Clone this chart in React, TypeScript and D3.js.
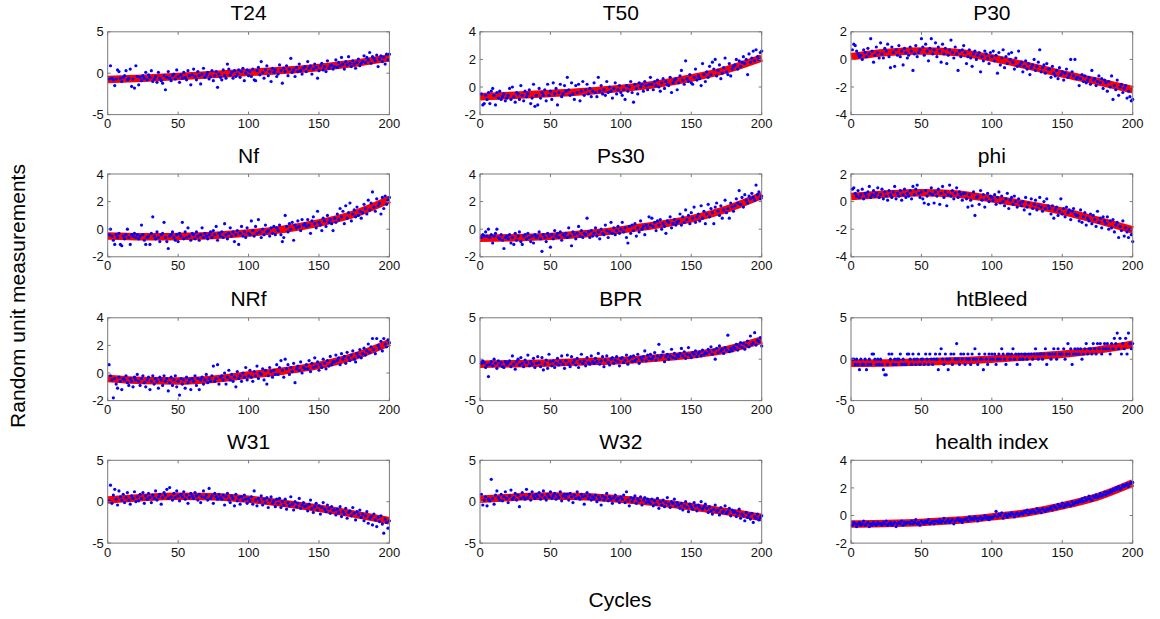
import React from "react";
import * as d3 from "d3";

// ---------- data ----------
const X_TICKS = [0, 50, 100, 150, 200];
const CURVE_X = [0, 25, 50, 75, 100, 125, 150, 175, 200];

const NAMES = ["T24", "T50", "P30", "Nf", "Ps30", "phi", "NRf", "BPR", "htBleed", "W31", "W32", "health index"];
const Y_DOMAINS: [number, number][] = [[-5, 5], [-2, 4], [-4, 2], [-2, 4], [-2, 4], [-4, 2], [-2, 4], [-5, 5], [-5, 5], [-5, 5], [-5, 5], [-2, 4]];
const Y_TICKS: number[][] = [[-5, 0, 5], [-2, 0, 2, 4], [-4, -2, 0, 2], [-2, 0, 2, 4], [-2, 0, 2, 4], [-4, -2, 0, 2], [-2, 0, 2, 4], [-5, 0, 5], [-5, 0, 5], [-5, 0, 5], [-5, 0, 5], [-2, 0, 2, 4]];

// smooth trend (red) at CURVE_X
const CURVE_T24 = [-0.75, -0.6, -0.4, -0.15, 0.1, 0.35, 0.7, 1.2, 1.85];
const CURVE_T50 = [-0.7, -0.6, -0.47, -0.32, -0.1, 0.2, 0.65, 1.25, 2.1];
const CURVE_P30 = [0.2, 0.5, 0.6, 0.5, 0.1, -0.45, -1.05, -1.6, -2.2];
const CURVE_NF = [-0.5, -0.55, -0.52, -0.45, -0.28, 0.0, 0.45, 1.1, 2.15];
const CURVE_PS30 = [-0.65, -0.62, -0.52, -0.33, -0.05, 0.3, 0.75, 1.45, 2.45];
const CURVE_PHI = [0.37, 0.55, 0.65, 0.55, 0.2, -0.2, -0.7, -1.35, -2.05];
const CURVE_NRF = [-0.4, -0.55, -0.58, -0.45, -0.15, 0.15, 0.55, 1.2, 2.2];
const CURVE_BPR = [-0.6, -0.55, -0.45, -0.3, -0.15, 0.15, 0.5, 1.15, 2.3];
const CURVE_HTBLEED = [-0.5, -0.45, -0.35, -0.2, 0.0, 0.3, 0.6, 1.1, 1.8];
const CURVE_W31 = [0.2, 0.5, 0.65, 0.6, 0.3, -0.2, -0.8, -1.5, -2.3];
const CURVE_W32 = [0.3, 0.55, 0.7, 0.6, 0.3, -0.1, -0.6, -1.2, -1.9];
const CURVE_HEALTH = [-0.62, -0.58, -0.5, -0.35, -0.1, 0.2, 0.7, 1.35, 2.35];

// measurements (blue) for cycles 1..200
const DOTS_T24 = [
  -.7,.9,-.6,-.8,-1.5,-.7,.4,.2,-.6,-1,-.5,-.3,.3,-.8,-.6,.5,-1.6,-.7,-1.8,.9,
  -.4,-1.4,-.5,-.9,-.3,-.6,.1,-.8,-.2,-.5,.3,-1,-.7,-.4,-1.1,.1,-.6,-.9,-1.2,-.3,
  -2,-.5,.2,-.6,-.9,-.3,-.1,-.7,.4,-.4,-1.1,-.2,-.6,.1,-.5,-.8,.3,-.3,-1.4,-.2,
  .5,-.4,-.8,.2,-.3,-1.3,-.1,.6,-.5,-.2,.1,-.7,-.4,.3,-.9,-.3,.2,-1.7,-.1,-.5,
  -.8,.4,-.3,-.6,1.1,.5,-.2,.1,-.6,.3,-.4,-.1,.4,-.5,.2,.6,-.9,0,.4,-.3,
  .2,-.4,.5,-.8,-.9,.3,.7,-.2,1.4,.1,-.6,.4,.9,-.3,.2,-1,.6,.1,.4,-.4,
  -.1,1,.3,-1.2,.6,.2,.9,-.3,.5,1.8,.1,.4,-.4,.7,.2,1.1,.3,-.1,.6,.8,
  .2,1.4,.6,.9,-.1,.5,1.1,.7,-.6,.3,.9,1.2,.4,.8,.2,1.5,.6,.9,1,.5,
  .8,1.6,.7,1.3,.9,1.9,1.1,.5,1.4,1,2,1.2,.8,1.5,1.1,.6,1.3,1.7,.9,1.2,
  1.4,2.1,1.3,1.9,1.6,2.5,1.2,2,1.8,1.5,2.2,.8,1.7,2.1,1.4,1.9,1.1,2.3,1.6,2.3,
];
const DOTS_T50 = [
  -.5,-1.3,-1.2,-.6,-.9,-.4,-1.2,-.3,-.1,-.6,-1.3,-.4,-.8,-.3,-.9,-.7,-.5,-1,-.8,-.6,
  -.1,-.9,0,-.7,-1.1,-.4,-.5,-.9,.1,-.6,-1,-.3,-.7,-.5,-.2,-1.2,-.8,.2,-1.4,-.6,
  -1.3,-.1,-.8,-.4,-.6,-.2,-1,.2,-.6,-.3,-.9,.3,-.5,-.1,-1.3,-.4,.2,-.7,-.5,.1,
  -.3,.7,-.2,-.6,.3,-.5,-.9,.1,-.4,.2,-1,-.3,.4,-.6,-.2,.2,-.5,-.1,-.7,-.3,
  .3,-.4,-.7,.7,-.3,.1,-.5,-.2,-.6,.4,-.4,0,-.3,-.8,-.1,.3,-.5,-.2,.1,-.4,
  -.6,-.2,-.9,.1,-.3,0,.4,-.4,-1.1,.2,-.1,-.5,.3,0,.2,-.3,.4,.1,-.2,.2,
  .7,.2,-.2,.4,.1,.5,0,-.3,.3,.6,-.1,.4,.2,.1,.7,-.4,.3,.5,.6,-.2,
  .3,.8,1.2,.5,.2,1.9,.6,.4,.9,.3,.2,.7,1.3,.5,.8,.6,.1,1.7,.9,.4,
  1.1,.7,1.5,.9,1.8,1.3,2,.8,1.2,1.6,.6,1,1.4,2.1,1.1,.9,1.7,.8,1.3,1.5,
  1.6,2,1.3,1.9,1.5,1.8,2.2,1.7,2,.9,2.4,1.8,2.1,2.6,1.9,2.7,2.2,2,2.5,2.6,
];
const DOTS_P30 = [
  .7,1.1,1,.6,.4,.2,.3,0,.7,.5,.2,.8,.4,1.5,.6,-.2,.3,.9,.5,.1,
  1.2,.4,.1,.8,.6,1.1,.2,-.6,.9,.5,-.5,.7,.3,1,.2,.6,-.4,.8,.5,.1,
  .3,.9,.6,-.8,.4,1,.2,.5,.7,1.5,.9,.3,1.1,.6,-.1,.8,1.5,.4,.7,1.2,
  .2,.9,.6,-.2,1.1,.4,.8,-.3,.3,.7,1.4,.5,.1,.9,.4,-.8,.6,.2,.7,1,
  .5,-.3,.2,.7,.1,-.5,.4,.6,0,.3,.5,-.9,.2,-.1,.6,.4,.1,-.3,.5,.2,
  .6,-.1,.3,-1,.5,-.4,.1,.7,-.6,.2,-.3,.4,0,.5,-.2,-.7,.1,-.5,.6,-.4,
  -.2,-.9,-.5,-.1,-.7,-.3,-1.1,-.6,-.4,0,-.8,-.5,-.2,.7,-.9,-.6,-.4,-1,-.3,-.7,
  -.7,-1.3,-.5,-1,-1.2,-.8,-1.4,-.6,-1.1,-.9,-1.5,-1,-.7,-1.3,-1.1,0,-.9,-1.2,0,-1.4,
  -1.3,-1.9,-1.4,-1.1,-1.6,-1.2,-1.7,-1.5,-1.3,-1.8,-.8,-1.5,-1.4,-1.9,-1.6,-1.2,-1.7,-1.4,-2.1,-1.5,
  -1.7,-2.3,-1.6,-2,-1.2,-2.9,-1.9,-2.2,-1.5,-2.6,-2,-1.8,-2.4,-2.1,-1.9,-2.8,-2.3,-2.7,-3,-2.9,
];
const DOTS_NF = [
  -.4,0,-.5,-.8,-1.1,-.4,-.6,-.3,-1.1,-1.2,-.5,-.7,-.4,0,-.6,-1.1,-.4,-.5,-.3,-.6,
  -.4,-.7,-.5,.3,-.4,-.8,-1.1,-.6,-.5,-1.1,-.3,.9,-.5,-.7,-.2,-.6,-.9,-.4,-.3,.5,
  -.6,-.9,-1.4,-.5,-.4,-.2,-.6,-.8,-.4,-.9,-.3,-.5,.5,-.7,-.2,-.6,.1,-.5,-.8,-.3,
  -.4,-.7,-.2,-.5,-.8,-.4,.1,-.6,-.3,-.5,-.7,-.4,-.2,-.6,-.1,-.4,.2,-.8,-.3,-.5,
  -.2,-.6,.4,-.4,-.7,-.3,.1,-.5,-.2,-.9,-.4,-.1,-1.1,-.3,.2,-.5,-.2,-.6,.1,-.3,
  -.4,.6,-.1,-.5,.2,-.3,.7,-.2,-.6,0,-.4,.3,-.2,-.1,-.5,.1,-.3,.2,-.4,.1,
  -.1,.3,-.4,-.9,-.6,1,.2,-.2,.4,0,.5,-.8,.3,.1,.6,.2,-.1,.7,.3,.4,
  .2,.7,.3,-.3,.6,.9,.4,.1,1.3,.5,.3,-.1,.8,.6,.2,1,.5,.7,.4,-.1,
  .8,.5,1.1,.7,1.5,.9,1.3,.4,1.7,.8,1.2,1.9,.6,1.1,1.4,.9,1.6,1,1.3,.8,
  1.2,1.8,1.5,1.1,2.1,1.4,1.9,2.7,1.6,1.3,2.2,1.7,1.9,1.1,2.3,1.5,2.4,1.8,2.1,2.3,
];
const DOTS_PS30 = [
  -.6,-.4,-.5,-.2,-.5,0,-.6,-.4,-1,-.5,-.3,0,-.6,-.7,-.4,-.8,-1.4,-.6,-.5,-.7,
  -.4,-1,-.6,-1.1,-.3,-.8,-.5,-.2,-.9,-1.1,-.5,-.4,-.7,-.3,-.6,-.9,-.5,-1,-.4,-.6,
  -.5,-.2,-.7,-1.6,-.4,-.6,-.9,-.3,-.5,-1.3,-.4,-.7,-.1,-.5,-.3,-.6,-.2,-.8,-.4,-.5,
  -.3,-.6,.1,-.5,-1.2,-.2,-.4,-.7,-.3,.2,-.5,-.1,-.6,-.3,-.4,.8,-.2,-.6,-.1,-.5,
  -.3,.1,-.5,-.2,-.7,0,-.3,-.4,.3,-.1,-.6,-.2,.5,-.3,.1,-.4,-.1,.2,-.3,0,
  .5,-.2,.1,-.6,-1,.2,-.3,.3,-.1,.4,-.5,.1,-.2,.6,0,.2,-.4,.3,.1,.9,
  .3,.8,.2,.5,-.1,.6,.3,.7,0,.4,.2,-.3,.6,.5,.9,.1,.4,.7,.3,.5,
  .6,1.1,.3,.9,.5,1.4,.7,1,.4,1.2,.8,1.6,.5,.9,1.1,.6,1.7,.8,1.3,.4,
  1.1,1.8,.9,1.5,1.2,.4,1.6,1.9,1.3,1,1.7,.8,1.4,2.1,1.2,1.5,.8,1.9,1.6,1.3,
  1.7,2.2,1.9,2.8,1.8,2.3,1.6,2.5,2.1,1.9,2.4,2.2,2.6,2.3,2.1,3.2,2.5,2.7,2.2,2.4,
];
const DOTS_PHI = [
  .9,1,.6,.4,.8,.3,.5,.9,.2,.6,.4,.7,1.1,.3,.5,.8,.4,.6,1,.3,
  .5,.9,.2,.7,.4,.1,.8,.5,.3,.7,1.1,.2,.6,.4,.8,.1,.5,.9,.3,.6,
  .4,.8,.2,1.1,.5,.9,1.2,.6,.3,.7,.2,-.1,.8,.4,-.2,.6,1,.5,-.1,.7,
  .4,.9,-.2,.6,1.1,.3,.7,-.3,.5,1.2,.4,.8,.2,.6,1,.3,.7,.5,.1,.6,
  .6,.2,-.4,.5,.1,-.3,.7,-1,.3,.4,-.2,.8,.1,.5,-.4,.2,.6,0,.4,.3,
  .1,.5,-.2,.3,.7,-.1,.4,0,-.3,.2,.6,-.5,.1,.3,-.2,.4,0,-.4,.2,-.1,
  -.3,0,-.6,.3,-.4,-.1,-.9,.2,-.5,-.2,.1,-.6,-.3,.3,-.4,-.7,0,-.5,.2,-.3,
  -.5,-.9,-.3,-1.2,-.6,-.4,-1,-.7,.2,-.9,-.5,-1.1,-.4,-.8,-.6,-1.3,-.7,-.5,-.9,-1,
  -1,-1.4,-.6,-1.5,-1.1,-.8,-1.7,-1.2,-1.4,-.9,-1.6,-1,-1.3,-1.8,-.7,-1.5,-1.2,-1.9,-1.1,-1.4,
  -1.6,-1.1,-2,-1.4,-1.9,-1.3,-2.2,-1.7,-1.5,-2.6,-1.8,-2.1,-1.4,-2.5,-1.9,-2.2,-2.6,-2,-2.4,-2.9,
];
const DOTS_NRF = [
  .6,-.2,-.5,-1.8,-.4,-.8,-1.1,-.3,-.6,-1.2,-.4,-.5,-.2,-.7,-.9,-.4,-.6,-1,-.3,-.5,
  -.1,-.6,-.9,-.4,-.2,-.7,-1,-.5,-.3,-1.2,-.6,-.2,-.8,-.4,-.6,-1.1,-.3,-.5,-.9,-.2,
  -.6,-.4,-1.3,-.7,-.3,-.9,-.5,-.2,-1,-.6,-1.6,-.4,-.8,-.5,-1.1,-.3,-.7,-.5,-1.2,-.4,
  -.6,-.2,-.9,-.4,-1.2,-.5,-.3,-.8,-.5,-.1,-.7,-.4,-.6,-.2,.5,-.6,-.4,.6,-.8,-.3,
  -.2,-.5,0,-.8,-.3,.2,-.5,-.1,-.6,-.3,-1,.1,-.4,-.2,-.6,0,-.3,.4,-.5,-.2,
  .2,-.3,-.6,.1,-.2,.5,-.4,0,-.1,.3,-.5,.2,-.8,-.2,.4,.1,-.3,.2,-.1,.6,
  -.1,.4,.9,.2,-.3,1,.3,.6,-.1,.4,.1,.7,-.7,.3,.5,.2,.8,0,.4,.3,
  .6,.3,.9,.1,.7,.4,1.1,.5,.8,.2,.6,.4,1,.7,.3,.9,.5,1.2,.6,.8,
  .8,1.3,.9,1.1,.6,1.4,1,1.2,.7,1.5,1.1,.9,1.3,1.6,1,.8,1.4,1.2,1.7,1.1,
  1.4,1.8,1.3,1.6,2.1,1.5,1.9,2.5,1.7,1.4,2.5,2,1.8,2.3,1.6,2.5,2.1,1.9,2.4,2.2,
];
const DOTS_BPR = [
  -.5,-.2,-.4,-1,-.7,-2.1,-.6,-.3,-.8,0,-.5,-1.1,-.2,-.7,-.4,-.9,-1,-.3,-.6,-.4,
  -.2,-.9,.4,-.6,-1.2,-.3,0,-.7,.2,-.5,-.9,-.1,-.4,.5,-.8,-.3,-.6,.1,-1,-.5,
  .3,-.4,-.9,.2,-1.3,-.6,-.1,-1.1,.6,-.3,-.8,-.2,-1,-.5,.1,-.7,-.3,.4,-.6,-1.1,
  -.2,.5,-.6,-.9,.3,-.4,-.1,-.7,.1,-1,-.3,.6,-.5,-.2,-.8,.2,-.4,-.6,.4,-.3,
  -.5,.1,-.3,.7,-.6,-.2,.3,-.9,-.1,.4,-.4,-.7,0,.2,-.5,-.1,.3,-.3,-.8,.1,
  .2,-.4,-.1,.5,-.6,.1,.3,-.3,.4,-.2,0,.6,-.5,.2,-.1,.3,1,-.2,.5,.1,
  .6,0,.3,.8,-.1,.4,1.8,.2,.5,.9,-.3,.3,.6,0,.4,1.2,.2,.7,.1,.5,
  .3,.7,1.3,.4,.9,.1,.6,1.4,.5,.2,.8,.6,1,.3,.7,.9,.4,1.1,.6,.8,
  .7,1.2,.9,1.5,.6,1.1,0,1.3,.8,1.6,1,1.2,.7,1.4,1.1,2.9,.9,1.3,1,1.5,
  1.3,1.8,1.1,1.6,2,1.4,1.9,1.2,1.7,2.2,1.5,2.8,1.8,2,3.2,1.7,2.3,2.1,2.6,1.6,
];
const DOTS_HTBLEED = [
  0,0,-.63,0,-.63,-1.26,0,-.63,-.63,0,-1.26,-.63,0,-.63,.63,.63,0,-.63,0,-.63,
  0,-.63,-1.26,-1.89,-1.89,-.63,.63,0,.63,-.63,0,-.63,0,0,.63,-.63,0,-.63,-.63,.63,
  .63,0,-.63,.63,0,-.63,0,.63,-.63,0,0,-.63,.63,0,-.63,.63,0,-.63,0,.63,
  0,-1.26,.63,1.26,0,-.63,.63,0,-1.26,0,.63,-.63,.63,0,1.89,0,-.63,.63,0,.63,
  -.63,0,.63,0,-.63,.63,0,1.26,0,-.63,.63,0,0,-1.26,.63,0,-.63,.63,0,.63,
  0,.63,-.63,0,.63,0,1.26,.63,0,-.63,.63,.63,0,.63,1.26,0,.63,-.63,.63,0,
  .63,0,.63,.63,0,.63,-.63,.63,0,.63,1.26,.63,0,.63,.63,0,.63,1.26,-.63,.63,
  .63,0,.63,1.26,.63,0,1.26,.63,.63,.63,1.26,0,.63,1.89,.63,1.26,-.63,.63,1.26,.63,
  1.26,.63,1.26,0,.63,1.26,1.89,.63,1.26,1.26,.63,1.89,1.26,.63,1.89,1.26,1.89,.63,1.26,1.89,
  1.26,1.89,1.26,.63,1.89,1.26,2.52,1.89,3.15,1.26,2.52,.63,1.89,1.26,2.52,.63,3.15,1.89,1.26,1.89,
];
const DOTS_W31 = [
  .1,2,-.2,.8,1.5,.3,-.4,1.3,.6,.2,.9,-.1,.5,1.1,.2,-.3,.7,.4,1.2,0,
  .6,.1,.9,.4,1.1,-.2,.7,.3,1,.5,-.1,.8,.4,1.3,.2,.6,.9,-.3,.5,1.1,
  .8,1.5,.4,1.7,.6,.2,1,.5,1.3,.7,.1,.9,.6,1.2,.3,.8,-.2,.5,1,.7,
  .4,1.1,.7,.2,.9,-.1,.6,1.3,.5,.8,.2,1.6,.4,.7,-.2,1,.6,.3,.9,.5,
  .3,.8,-.4,.6,1,.2,-.1,.7,.4,-.5,.9,.1,.5,-.3,.6,.2,.8,.3,-.2,.4,
  .1,.6,-.3,1.3,.2,-.5,.4,0,.7,-.4,.3,-.1,.5,-.7,.2,.6,-.2,.1,-.6,.3,
  -.2,.4,-.7,0,-.4,.3,-.9,-.1,-.5,.6,-.3,-1,0,-.6,-.2,.4,-.8,-.4,-.1,-.6,
  -.5,-1.1,-.3,.2,-.8,-1.3,-.6,-.2,-1,-.5,-1.5,-.7,-.1,-.9,-1.2,-.4,-.8,-1.4,-.6,-1,
  -1,-1.6,-.9,-1.3,-.6,-1.8,-1.2,-1.5,-.8,-2,-1.3,-1.1,-1.7,-.7,-1.4,-2.2,-1.2,-1.6,-1,-1.9,
  -1.5,-2.3,-1.7,-1.2,-2.6,-2,-1.8,-2.8,-1.5,-2.2,-3,-1.9,-2.4,-1.7,-2.7,-3.8,-2.1,-2.5,-3.2,-2.3,
];
const DOTS_W32 = [
  .9,-.4,.2,.6,-.5,.3,.1,2.7,.4,-.3,.8,1.3,.5,.2,.9,.1,.6,1.2,.4,-.1,
  .7,1.4,.3,.5,1,.2,.8,-.6,.4,1.1,.6,.3,1.5,.5,.9,.2,1.2,.7,.4,.9,
  .6,1.1,.3,.8,1.3,.5,.2,.9,.6,1.2,.4,.7,1,.3,.8,.5,1.2,.1,.7,.9,
  .5,.9,.2,1,.6,-.1,.8,.4,1.2,.5,.3,.9,.6,-.3,.7,1.1,.4,.8,.2,.6,
  .4,.8,0,.6,.3,-.4,.7,.2,.5,1,.1,.6,.3,-.2,.5,.8,.2,.4,-.1,.6,
  .3,.8,-.1,1.2,.2,-.5,.5,0,.4,.7,-.2,.3,.1,.6,-.4,.2,.5,-.1,.3,0,
  -.2,.3,-.5,.1,-.3,.4,-.8,0,-.4,.2,-.6,-.1,.5,-.3,-.7,0,-.2,.3,-.5,-.1,
  -.4,-.8,-.2,-1,-.5,0,-.7,-1.2,-.3,-.6,-.9,-.1,-.5,-1.1,-.4,-.7,0,-.9,-.6,-.3,
  -.8,-1.3,-.6,-1.1,-1.5,-.9,-.4,-1.2,-1,-1.6,-.7,-1.3,-1.1,-.5,-1.4,-1.2,-.8,-1.7,-1,-1.3,
  -1.2,-1.8,-1.4,-.9,-2,-1.5,-1.7,-2.3,-1.3,-1.9,-1.6,-2.1,-1.4,-2.5,-1.8,-2,-1.5,-2.2,-1.9,-1.7,
];
const DOTS_HEALTH = [
  -.7,-.5,-.6,-.8,-.6,-.5,-.7,-.6,-.4,-.7,-.6,-.5,-.8,-.6,-.7,-.5,-.6,-.7,-.5,-.6,
  -.6,-.7,-.5,-.6,-.4,-.7,-.6,-.5,-.7,-.6,-.5,-.8,-.6,-.5,-.6,-.4,-.7,-.5,-.6,-.5,
  -.5,-.6,-.4,-.6,-.5,-.3,-.6,-.5,-.7,-.4,-.5,-.6,-.4,-.5,-.3,-.6,-.5,-.4,-.6,-.4,
  -.4,-.5,-.3,-.5,-.4,-.2,-.5,-.4,-.3,-.5,-.4,-.3,-.6,-.4,-.3,-.2,-.4,-.3,-.5,-.3,
  -.3,-.2,-.4,-.1,-.3,-.2,-.3,-.1,-.2,-.4,-.2,-.1,-.3,-.2,0,-.2,-.1,-.3,-.1,-.2,
  -.1,0,.3,-.1,.1,0,.2,-.2,0,.1,-.1,.1,0,.2,.1,-.1,.1,.2,0,.1,
  .2,.1,.3,.2,.4,.1,.3,.2,.4,.3,.2,.5,.3,.4,.2,.5,.4,.3,.5,.4,
  .5,.6,.4,.7,.6,.5,.8,.6,.7,.9,.6,.8,.7,.9,.8,.7,1,.8,.9,1,
  .9,1.1,1,1.2,1,1.3,1.1,1.2,1.4,1.2,1.1,1.4,1.3,1.5,1.3,1.4,1.6,1.4,1.5,1.7,
  1.5,1.7,1.6,1.8,1.7,1.9,1.8,2,1.9,2.1,1.9,2,2.2,2.1,2.2,2.3,2.1,2.3,2.4,2.4,
];

const CURVES = [CURVE_T24, CURVE_T50, CURVE_P30, CURVE_NF, CURVE_PS30, CURVE_PHI, CURVE_NRF, CURVE_BPR, CURVE_HTBLEED, CURVE_W31, CURVE_W32, CURVE_HEALTH];
const DOTS = [DOTS_T24, DOTS_T50, DOTS_P30, DOTS_NF, DOTS_PS30, DOTS_PHI, DOTS_NRF, DOTS_BPR, DOTS_HTBLEED, DOTS_W31, DOTS_W32, DOTS_HEALTH];

// ---------- layout ----------
const WIDTH = 1160;
const HEIGHT = 619;
const COL_LEFT = [107.7, 480, 851];
const ROW_TOP = [31.8, 174, 317.8, 460.3];
const PW = 281.7;
const PH = 82.8;
const FONT = "Liberation Sans, Arial, Helvetica, sans-serif";
const AXIS_COLOR = "#7a7a7a";
const TEXT_COLOR = "#111";

function Panel({ idx }: { idx: number }) {
  const left = COL_LEFT[idx % 3];
  const top = ROW_TOP[Math.floor(idx / 3)];
  const x = d3.scaleLinear().domain([0, 200]).range([left, left + PW]);
  const y = d3.scaleLinear().domain(Y_DOMAINS[idx]).range([top + PH, top]);
  const curve = CURVES[idx];
  const line = d3
    .line<number>()
    .x((_, i) => x(CURVE_X[i]))
    .y((d) => y(d))
    .curve(d3.curveMonotoneX);
  const tl = 3;
  return (
    <g>
      <rect x={left} y={top} width={PW} height={PH} fill="#fff" />
      <path d={line(curve) || ""} fill="none" stroke="#ff0000" strokeWidth={7.5} strokeLinecap="butt" />
      {DOTS[idx].map((v, i) => (
        <circle key={i} cx={x(i + 1)} cy={y(v)} r={1.6} fill="#0000ff" />
      ))}
      <rect x={left} y={top} width={PW} height={PH} fill="none" stroke={AXIS_COLOR} strokeWidth={1} />
      {X_TICKS.map((t) => (
        <g key={"x" + t}>
          <line x1={x(t)} x2={x(t)} y1={top + PH} y2={top + PH - tl} stroke={AXIS_COLOR} />
          <line x1={x(t)} x2={x(t)} y1={top} y2={top + tl} stroke={AXIS_COLOR} />
          <text x={x(t)} y={top + PH + 13.5} textAnchor="middle" fontSize={13} fontFamily={FONT} fill={TEXT_COLOR}>
            {t}
          </text>
        </g>
      ))}
      {Y_TICKS[idx].map((t) => (
        <g key={"y" + t}>
          <line x1={left} x2={left + tl} y1={y(t)} y2={y(t)} stroke={AXIS_COLOR} />
          <line x1={left + PW} x2={left + PW - tl} y1={y(t)} y2={y(t)} stroke={AXIS_COLOR} />
          <text x={left - 4} y={y(t)} dy="0.36em" textAnchor="end" fontSize={13} fontFamily={FONT} fill={TEXT_COLOR}>
            {t}
          </text>
        </g>
      ))}
      <text x={left + PW / 2} y={top - 11.5} textAnchor="middle" fontSize={21} fontFamily={FONT} fill="#000">
        {NAMES[idx]}
      </text>
    </g>
  );
}

export default function App() {
  return (
    <svg
      width={WIDTH}
      height={HEIGHT}
      style={{ position: "absolute", left: 0, top: 0, background: "#fff" }}
    >
      <rect x={0} y={0} width={WIDTH} height={HEIGHT} fill="#fff" />
      {NAMES.map((_, i) => (
        <Panel key={i} idx={i} />
      ))}
      <text
        transform={`translate(25,296) rotate(-90)`}
        textAnchor="middle"
        fontSize={21}
        fontFamily={FONT}
        fill="#000"
      >
        Random unit measurements
      </text>
      <text x={620} y={607} textAnchor="middle" fontSize={21} fontFamily={FONT} fill="#000">
        Cycles
      </text>
    </svg>
  );
}
